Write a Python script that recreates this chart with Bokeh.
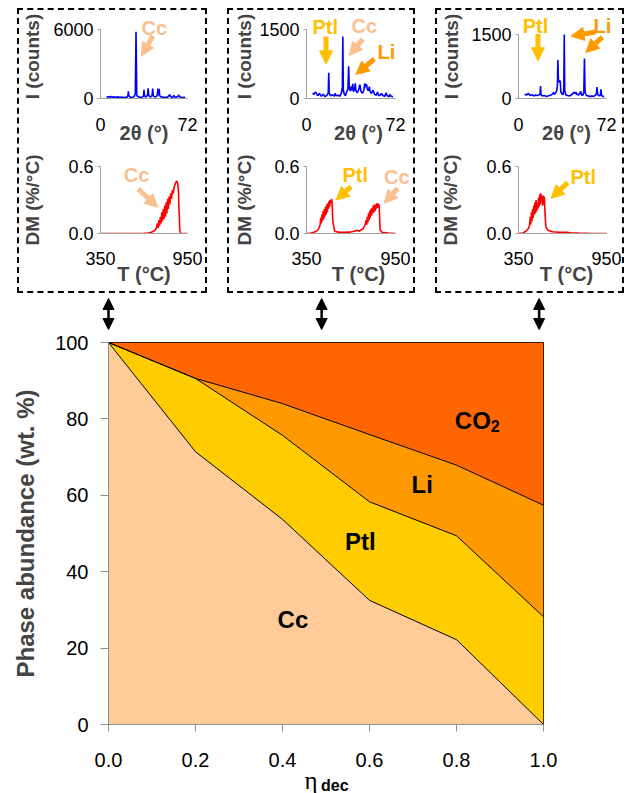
import numpy as np
from bokeh.plotting import figure
from bokeh.models import (Range1d, FixedTicker, NumeralTickFormatter, Label, Arrow,
                          NormalHead, Spacer, ColumnDataSource)
from bokeh.layouts import column, row
from bokeh.embed import file_html
from bokeh.resources import INLINE

FONT = "Liberation Sans"

# ---------------- main chart data ----------------
eta = [0.0, 0.2, 0.4, 0.6, 0.8, 1.0]
cc = [100.0, 71.4, 53.7, 32.5, 22.2, 0.0]
ptl = [0.0, 19.2, 22.0, 25.8, 27.2, 28.2]
li = [0.0, 0.0, 8.3, 17.6, 18.5, 29.2]
co2 = [0.0, 9.4, 16.0, 24.1, 32.1, 42.6]
phase_keys = ["cc", "ptl", "li", "co2"]
phase_fill = ["#FFCC99", "#FFCC00", "#FF9900", "#FF6600"]
main_xticks = [0.0, 0.2, 0.4, 0.6, 0.8, 1.0]
main_yticks = [0, 20, 40, 60, 80, 100]
panel_eta = [0.0, 0.49, 0.99]   # eta of the three measured samples (double arrows)

# ---------------- XRD data (2theta, counts) ----------------
xrd1_tt = [5.0, 6.5, 8.0, 9.0, 10.0, 11.5, 13.0, 14.5, 16.0, 17.5, 19.0, 20.5, 22.0, 22.7, 23.1, 23.5,
           24.5, 26.0, 27.5, 28.8, 29.4, 30.0, 30.8, 31.4, 32.0, 33.5, 35.0, 35.6, 36.0, 36.4, 37.5,
           38.9, 39.4, 39.9, 41.5, 42.7, 43.2, 43.7, 45.0, 46.6, 47.1, 47.5, 47.9, 48.5, 49.0, 50.5,
           52.0, 53.5, 55.0, 56.2, 56.6, 57.0, 57.4, 57.8, 59.0, 60.3, 60.7, 61.1, 62.5, 64.3, 64.7,
           65.1, 65.6, 66.0, 67.5, 69.0, 70.0]
xrd1_i = [120, 160, 110, 180, 90, 150, 100, 140, 95, 130, 85, 110, 120, 260, 620, 240,
          120, 110, 130, 380, 5800, 300, 140, 210, 120, 110, 130, 240, 760, 230, 120,
          280, 880, 260, 130, 250, 860, 240, 120, 200, 420, 860, 260, 840, 230, 120,
          100, 110, 95, 180, 300, 200, 360, 180, 100, 160, 280, 150, 110, 170, 330,
          160, 200, 110, 90, 100, 80]
xrd2_tt = [5.0, 6.0, 7.5, 9.0, 10.5, 12.0, 13.5, 15.0, 16.5, 17.6, 18.0, 18.4, 19.5, 21.0, 22.5, 23.1,
           24.0, 25.5, 27.0, 28.3, 28.7, 29.0, 29.4, 29.8, 30.6, 31.5, 32.4, 33.5, 34.1, 34.6, 35.4,
           36.0, 36.6, 37.4, 38.0, 39.0, 39.4, 40.0, 41.0, 42.2, 43.2, 44.0, 45.2, 46.4, 47.1, 47.6,
           48.5, 49.2, 50.1, 50.8, 51.5, 52.5, 53.9, 55.0, 56.5, 57.4, 58.5, 60.0, 60.7, 62.0, 63.5,
           64.2, 65.5, 67.0, 67.4, 68.5, 70.0]
xrd2_i = [120, 90, 140, 60, 110, 50, 90, 40, 70, 120, 560, 110, 60, 80, 50, 110,
          60, 70, 50, 120, 220, 150, 1350, 180, 90, 60, 140, 200, 700, 240, 160,
          260, 180, 320, 150, 210, 330, 170, 120, 190, 300, 160, 110, 180, 330, 250,
          310, 200, 170, 260, 150, 110, 180, 90, 70, 140, 60, 80, 110, 60, 50,
          120, 60, 40, 90, 50, 40]
xrd3_tt = [5.0, 6.5, 8.0, 9.5, 11.0, 12.5, 14.0, 15.5, 17.0, 17.6, 18.0, 18.4, 19.5, 21.0, 22.5, 24.0,
           25.5, 27.0, 28.2, 28.7, 29.2, 30.2, 31.2, 31.8, 32.2, 32.6, 33.2, 34.1, 34.6, 35.4, 36.4,
           37.0, 37.4, 37.8, 38.6, 40.0, 41.5, 43.0, 44.5, 45.5, 46.5, 47.1, 47.6, 49.0, 50.3, 50.8,
           51.3, 52.5, 53.4, 53.9, 54.4, 55.5, 57.0, 58.5, 60.0, 61.5, 63.0, 63.7, 64.2, 64.7, 66.0,
           66.9, 67.4, 67.9, 69.0, 70.0]
xrd3_i = [100, 80, 120, 70, 90, 60, 80, 70, 90, 100, 290, 90, 60, 70, 50, 60,
          70, 90, 110, 150, 100, 120, 180, 300, 900, 450, 380, 420, 160, 110, 90,
          200, 1500, 180, 90, 70, 60, 80, 120, 150, 110, 150, 100, 80, 130, 170,
          90, 70, 150, 940, 140, 70, 60, 50, 60, 50, 80, 120, 270, 90, 60,
          80, 215, 70, 50, 40]

# ---------------- DTG data (T in C, DM in %/C) ----------------
tga1_t = [350, 400, 450, 500, 550, 600, 650, 680, 700, 715, 728, 736, 742, 748, 753, 758, 763, 768,
          773, 778, 783, 788, 793, 798, 803, 808, 813, 818, 823, 828, 834, 840, 846, 852, 858, 864,
          870, 876, 882, 887, 892, 897, 903, 920, 950]
tga1_dm = [0.0, 0.0, 0.0, 0.0, 0.0, 0.0, 0.002, 0.005, 0.01, 0.02, 0.03, 0.05, 0.09, 0.05, 0.12, 0.07,
           0.15, 0.09, 0.19, 0.11, 0.22, 0.13, 0.25, 0.15, 0.28, 0.18, 0.31, 0.22, 0.33, 0.26, 0.36,
           0.31, 0.39, 0.36, 0.42, 0.44, 0.46, 0.47, 0.45, 0.40, 0.20, 0.03, 0.0, 0.0, 0.0]
tga2_t = [350, 380, 410, 425, 435, 442, 446, 450, 454, 458, 462, 466, 470, 474, 478, 482, 486, 490,
          494, 498, 502, 506, 510, 514, 518, 522, 528, 540, 570, 600, 640, 670, 690, 705, 720, 730,
          738, 746, 752, 756, 760, 764, 768, 772, 776, 780, 784, 788, 792, 796, 800, 804, 808, 812,
          816, 820, 824, 828, 832, 836, 840, 846, 860, 900, 950]
tga2_dm = [0.0, 0.005, 0.015, 0.03, 0.05, 0.08, 0.14, 0.09, 0.17, 0.11, 0.20, 0.13, 0.22, 0.15, 0.24,
           0.17, 0.26, 0.19, 0.27, 0.22, 0.29, 0.24, 0.30, 0.27, 0.31, 0.29, 0.10, 0.02, 0.01, 0.01,
           0.012, 0.02, 0.03, 0.02, 0.035, 0.04, 0.06, 0.08, 0.12, 0.08, 0.15, 0.10, 0.18, 0.12, 0.20,
           0.14, 0.22, 0.16, 0.23, 0.18, 0.25, 0.19, 0.26, 0.20, 0.26, 0.22, 0.27, 0.23, 0.27, 0.24,
           0.26, 0.03, 0.01, 0.005, 0.0]
tga3_t = [350, 380, 400, 415, 425, 430, 434, 438, 442, 446, 450, 454, 458, 462, 466, 470, 474, 478,
          482, 486, 490, 494, 498, 502, 506, 510, 514, 518, 522, 526, 530, 536, 550, 580, 620, 680,
          710, 760, 850, 950]
tga3_dm = [0.0, 0.005, 0.02, 0.04, 0.07, 0.15, 0.08, 0.19, 0.11, 0.22, 0.14, 0.25, 0.17, 0.28, 0.18,
           0.30, 0.20, 0.27, 0.22, 0.32, 0.24, 0.35, 0.26, 0.36, 0.28, 0.34, 0.25, 0.34, 0.26, 0.33,
           0.20, 0.06, 0.03, 0.015, 0.012, 0.01, 0.005, 0.003, 0.0, 0.0]

xrd_xticks = [0, 72]
tga_xticks = [350, 950]
xrd1_yticks = [0, 6000]
xrd23_yticks = [0, 1500]
tga_yticks = [0.0, 0.6]

note_color = {"Cc": "#FAC090", "Ptl": "#FFC000", "Li": "#FF9900"}
# annotations: (phase, text x, text y) and arrows (phase, x tail, y tail, x head, y head)
xrd1_texts = [("Cc", 44.5, 6150)]
xrd1_arrows = [("Cc", 43.4, 5450, 34.0, 3700)]
tga1_texts = [("Cc", 599, 0.52)]
tga1_arrows = [("Cc", 610, 0.40, 745, 0.234)]
xrd2_texts = [("Ptl", 15.1, 1560), ("Cc", 46.8, 1575), ("Li", 64.7, 1007)]
xrd2_arrows = [("Ptl", 15.8, 1350, 15.8, 754), ("Cc", 45.5, 1290, 34.6, 935), ("Li", 54.9, 863, 40.0, 522)]
tga2_texts = [("Ptl", 678, 0.525), ("Cc", 959, 0.51)]
tga2_arrows = [("Ptl", 650, 0.419, 549, 0.30), ("Cc", 965, 0.405, 874, 0.27)]
xrd3_texts = [("Ptl", 13.9, 1700), ("Li", 68.5, 1700)]
xrd3_arrows = [("Ptl", 15.9, 1510, 15.9, 885), ("Li", 63.1, 1560, 42.9, 1462), ("Li", 68.5, 1440, 55.0, 1078)]
tga3_texts = [("Ptl", 791, 0.51)]
tga3_arrows = [("Ptl", 685, 0.455, 572, 0.315)]

GRAY = "#A0A0A0"


def small_plot(xs, ys, color, xticks, yticks, yfmt, ylabel, xlabel, g, texts, arrows):
    """g: geometry in page pixels (figure origin, frame edges, tick pixel positions, standoffs)."""
    fx0, fx1 = g["fx"]
    fy0, fy1 = g["fy"]
    ty1 = g["ty1"]
    sx = (xticks[1] - xticks[0]) / (g["tx1"] - fx0)
    xr = (xticks[0], xticks[0] + sx * (fx1 - fx0))
    sy = yticks[1] / (fy1 - ty1)
    yr = (0, (fy1 - fy0) * sy)
    p = figure(width=g["w"], height=g["h"], x_range=Range1d(*xr), y_range=Range1d(*yr),
               output_backend="svg", toolbar_location=None,
               min_border_left=fx0 - g["x"], min_border_right=g["x"] + g["w"] - fx1,
               min_border_top=fy0 - g["y"], min_border_bottom=g["y"] + g["h"] - fy1)
    p.outline_line_color = None
    p.grid.visible = False
    p.line(xs, ys, line_color=color, line_width=1.6)

    xa = p.xaxis[0]
    xa.bounds = (xticks[0], xticks[1])
    xa.ticker = FixedTicker(ticks=xticks)
    xa.formatter = NumeralTickFormatter(format="0")
    xa.axis_line_color = GRAY
    xa.major_tick_line_color = None
    xa.major_tick_out = 0
    xa.major_tick_in = 0
    xa.minor_tick_line_color = None
    xa.major_label_standoff = g["ls"]
    xa.major_label_text_font = FONT
    xa.major_label_text_font_size = "18px"
    xa.major_label_text_color = "black"
    xa.axis_label = xlabel
    xa.axis_label_text_font = FONT
    xa.axis_label_text_font_size = "20px"
    xa.axis_label_text_font_style = "bold"
    xa.axis_label_standoff = g["xals"]

    ya = p.yaxis[0]
    ya.bounds = (yticks[0], yticks[1])
    ya.ticker = FixedTicker(ticks=yticks)
    ya.formatter = NumeralTickFormatter(format=yfmt)
    ya.axis_line_color = GRAY
    ya.major_tick_line_color = GRAY
    ya.major_tick_out = 3
    ya.major_tick_in = 0
    ya.minor_tick_line_color = None
    ya.major_label_standoff = 4
    ya.major_label_text_font = FONT
    ya.major_label_text_font_size = "18px"
    ya.major_label_text_color = "black"
    ya.axis_label = ylabel
    ya.axis_label_text_font = FONT
    ya.axis_label_text_font_size = "19px"
    ya.axis_label_text_font_style = "bold"
    ya.axis_label_standoff = g["yals"]

    for ph, tx, ty in texts:
        p.add_layout(Label(x=tx, y=ty, text=ph, text_align="center", text_baseline="middle",
                           text_font=FONT, text_font_size="20px", text_font_style="bold",
                           text_color=note_color[ph]))
    for ph, x0, y0, x1, y1 in arrows:
        c = note_color[ph]
        p.add_layout(Arrow(end=NormalHead(size=13, fill_color=c, line_color=c),
                           x_start=x0, y_start=y0, x_end=x1, y_end=y1,
                           line_color=c, line_width=5))
    return p


# page-pixel geometry of each dashed panel (layout only)
XRD_V = dict(y=10, h=140, fy=(14, 98), ls=19, xals=-12)
TGA_V = dict(y=150, h=141, fy=(166, 233), ty1=166, ls=18, xals=-5)
boxes = [
    dict(xrd=(xrd1_tt, xrd1_i, xrd1_yticks, xrd1_texts, xrd1_arrows),
         tga=(tga1_t, tga1_dm, tga1_texts, tga1_arrows),
         h=dict(x=19, w=186, fx=(98, 187), tx1=187), xty=29, yals=(7, 22)),
    dict(xrd=(xrd2_tt, xrd2_i, xrd23_yticks, xrd2_texts, xrd2_arrows),
         tga=(tga2_t, tga2_dm, tga2_texts, tga2_arrows),
         h=dict(x=229, w=184, fx=(306, 410), tx1=395), xty=29, yals=(1, 16)),
    dict(xrd=(xrd3_tt, xrd3_i, xrd23_yticks, xrd3_texts, xrd3_arrows),
         tga=(tga3_t, tga3_dm, tga3_texts, tga3_arrows),
         h=dict(x=437, w=185, fx=(517, 614), tx1=606), xty=34, yals=(6, 22)),
]

panels = []
for b in boxes:
    gx = dict(XRD_V, **b["h"], ty1=b["xty"], yals=b["yals"][0])
    gt = dict(TGA_V, **b["h"], yals=b["yals"][1])
    xt, xi, yt, txs, ars = b["xrd"]
    f1 = small_plot(xt, xi, "#0000FF", xrd_xticks, yt, "0", "I (counts)", "2θ (°)", gx, txs, ars)
    tt, td, ttx, tar = b["tga"]
    f2 = small_plot(tt, td, "#FF0000", tga_xticks, tga_yticks, "0.0", "DM (%/°C)", "T (°C)",
                    gt, ttx, tar)
    panels.append(column(f1, f2, styles={"border": "2px dashed black"}))

# ---------------- main chart ----------------
W = 620
MAIN_L, MAIN_R = 108, 543      # frame edges (page px)
src = ColumnDataSource(dict(eta=eta, cc=cc, ptl=ptl, li=li, co2=co2))
p = figure(width=W, height=463, x_range=Range1d(0, 1), y_range=Range1d(0, 100),
           output_backend="svg", toolbar_location=None,
           min_border_left=MAIN_L, min_border_right=W - MAIN_R, min_border_top=12,
           min_border_bottom=69)
p.grid.visible = False
p.outline_line_color = "black"
p.outline_line_width = 1
p.varea_stack(stackers=phase_keys, x="eta", color=phase_fill, source=src)
cum = np.cumsum(np.array([cc, ptl, li]), axis=0)
for k in range(3):
    p.line(eta, cum[k], line_color="black", line_width=1)

xa = p.xaxis[0]
xa.ticker = FixedTicker(ticks=main_xticks)
xa.formatter = NumeralTickFormatter(format="0.0")
xa.major_label_text_font = FONT
xa.major_label_text_font_size = "20px"
xa.major_label_text_color = "black"
xa.major_tick_out = 7
xa.major_tick_in = 0
xa.major_tick_line_color = "#909090"
xa.minor_tick_line_color = None
xa.axis_line_color = "#909090"
xa.major_label_standoff = 21

ya = p.yaxis[0]
ya.ticker = FixedTicker(ticks=main_yticks)
ya.formatter = NumeralTickFormatter(format="0")
ya.major_label_text_font = FONT
ya.major_label_text_font_size = "20px"
ya.major_label_text_color = "black"
ya.major_tick_out = 8
ya.major_tick_in = 0
ya.major_tick_line_color = "#909090"
ya.minor_tick_line_color = None
ya.axis_line_color = "#909090"
ya.major_label_standoff = 12
ya.axis_label = "Phase abundance (wt. %)"
ya.axis_label_text_font = FONT
ya.axis_label_text_font_size = "24px"
ya.axis_label_text_font_style = "bold"
ya.axis_label_standoff = 13

region_labels = [("Cc", 0.424, 27.5), ("Ptl", 0.579, 47.8), ("Li", 0.721, 62.9)]
for t, x, y in region_labels:
    p.add_layout(Label(x=x, y=y, text=t, text_align="center", text_baseline="middle",
                       text_font=FONT, text_font_size="24px", text_font_style="bold",
                       text_color="black"))
p.add_layout(Label(x=0.879, y=79.7, text="CO", text_align="right", text_baseline="middle",
                   text_font=FONT, text_font_size="24px", text_font_style="bold",
                   text_color="black"))
p.add_layout(Label(x=0.879, y=79.7, text="2", text_align="left", text_baseline="middle",
                   y_offset=-6, text_font=FONT, text_font_size="16px", text_font_style="bold",
                   text_color="black"))

# x-axis title: eta with subscript "dec" (side-panel labels, so they are not clipped)
p.add_layout(Label(x=0.5, y=0, x_offset=-15, y_offset=-56, text="η", text_align="center",
                   text_baseline="alphabetic", text_font="Liberation Serif",
                   text_font_size="25px", text_color="black"), "right")
p.add_layout(Label(x=0.5, y=0, x_offset=-5, y_offset=-61, text="dec", text_align="left",
                   text_baseline="alphabetic", text_font=FONT, text_font_size="16px",
                   text_font_style="bold", text_color="black"), "right")

# strip with the double-headed arrows, sharing the eta mapping of the main chart
ppu = MAIN_R - MAIN_L
arr = figure(width=W, height=37, x_range=Range1d(-MAIN_L / ppu, (W - MAIN_L) / ppu),
             y_range=Range1d(0, 37), output_backend="svg", toolbar_location=None,
             x_axis_location=None, y_axis_location=None, min_border=0)
arr.outline_line_color = None
arr.grid.visible = False
for e in panel_eta:
    arr.add_layout(Arrow(start=NormalHead(size=11, fill_color="black", line_color="black"),
                         end=NormalHead(size=11, fill_color="black", line_color="black"),
                         x_start=e, x_end=e, y_start=1, y_end=32,
                         line_color="black", line_width=2.5))

top = row(Spacer(width=17, height=10), panels[0], Spacer(width=20, height=10), panels[1],
          Spacer(width=20, height=10), panels[2])
layout = column(Spacer(width=10, height=8), top, row(arr), p)

open("out.html", "w").write(file_html(layout, INLINE))
